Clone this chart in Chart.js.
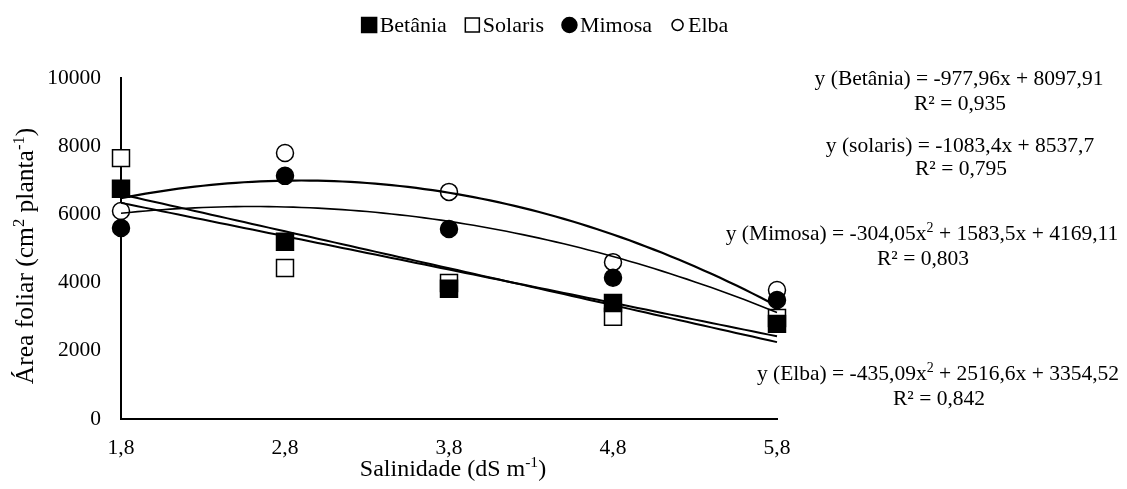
<!DOCTYPE html>
<html><head><meta charset="utf-8">
<script src="https://cdn.jsdelivr.net/npm/chart.js@4.4.0/dist/chart.umd.min.js"></script>
<style>html,body{margin:0;padding:0;background:#fff;}#wrap{width:1127px;height:489px;position:relative;}</style>
</head><body><div id="wrap"><canvas id="c"></canvas></div>
<script>
// ---- data ----
const salinity = [1.8, 2.8, 3.8, 4.8, 5.8];
const xTickLabels = ['1,8', '2,8', '3,8', '4,8', '5,8'];
const yTicks = [0, 2000, 4000, 6000, 8000, 10000];
const seriesNames = ['Betânia', 'Solaris', 'Mimosa', 'Elba'];
const betania = [6750, 5200, 3820, 3400, 2790];
const solaris = [7650, 4430, 3990, 3000, 2960];
const mimosa  = [5600, 7130, 5570, 4140, 3490];
const elba    = [6100, 7800, 6660, 4600, 3780];
// regression coefficients printed on the chart: y = a x^2 + b x + c
const trendA = [0, 0, -304.05, -435.09];
const trendB = [-977.96, -1083.4, 1583.5, 2516.6];
const trendC = [8097.91, 8537.7, 4169.11, 3354.52];
const equationTexts = [
  [[{t:'y (Betânia) = -977,96x + 8097,91'}], [{t:'R² = 0,935'}]],
  [[{t:'y (solaris) = -1083,4x + 8537,7'}], [{t:'R² = 0,795'}]],
  [[{t:'y (Mimosa) = -304,05x'},{t:'2',sup:true},{t:' + 1583,5x + 4169,11'}], [{t:'R² = 0,803'}]],
  [[{t:'y (Elba) = -435,09x'},{t:'2',sup:true},{t:' + 2516,6x + 3354,52'}], [{t:'R² = 0,842'}]]
];
const xTitle = [{t:'Salinidade (dS m'},{t:'-1',sup:true},{t:')'}];
const yTitle = [{t:'Área foliar (cm'},{t:'2',sup:true},{t:' planta'},{t:'-1',sup:true},{t:')'}];

const FONT = "'Liberation Serif', 'Times New Roman', serif";
const seriesValues = [betania, solaris, mimosa, elba];
const seriesStyle = [
  {ps:'rect', fill:'#000', r:12, order:1, lr:7.5},
  {ps:'rect', fill:'#fff', r:12, order:2, lr:7},
  {ps:'circle', fill:'#000', r:8.5, order:1, lr:7.5},
  {ps:'circle', fill:'#fff', r:8.5, order:2, lr:5.5}
];
const trendWidth = [2, 2, 1.6, 2.2];

const datasets = [];
seriesNames.forEach((name, i) => {
  datasets.push({
    type: 'scatter', label: name,
    data: salinity.map((x, j) => ({x, y: seriesValues[i][j]})),
    pointStyle: seriesStyle[i].ps, pointRadius: seriesStyle[i].r, pointHoverRadius: seriesStyle[i].r,
    backgroundColor: seriesStyle[i].fill, borderColor: '#000', borderWidth: 1.5,
    order: seriesStyle[i].order, clip: false
  });
});
seriesNames.forEach((name, i) => {
  const pts = [];
  const x0 = salinity[0], x1 = salinity[salinity.length - 1];
  for (let k = 0; k <= 80; k++) {
    const x = x0 + (x1 - x0) * k / 80;
    pts.push({x, y: trendA[i] * x * x + trendB[i] * x + trendC[i]});
  }
  datasets.push({
    type: 'line', label: 'trend ' + name, data: pts, showLine: true,
    borderColor: '#000', borderWidth: trendWidth[i], pointRadius: 0, fill: false, tension: 0,
    order: 0, clip: false
  });
});

function richWidth(ctx, segs, size) {
  let w = 0;
  segs.forEach(s => { ctx.font = (s.sup ? size * 0.65 : size) + 'px ' + FONT; w += ctx.measureText(s.t).width; });
  return w;
}
function drawRich(ctx, segs, cx, cy, size) {
  const w = richWidth(ctx, segs, size);
  let x = cx - w / 2;
  const base = cy + size * 0.33;
  ctx.textAlign = 'left'; ctx.textBaseline = 'alphabetic'; ctx.fillStyle = '#000';
  segs.forEach(s => {
    ctx.font = (s.sup ? size * 0.65 : size) + 'px ' + FONT;
    ctx.fillText(s.t, x, s.sup ? base - size * 0.36 : base);
    x += ctx.measureText(s.t).width;
  });
}

const textPlugin = {
  id: 'texts',
  afterDraw(chart) {
    const ctx = chart.ctx;
    ctx.save();
    // equations
    const eqPos = [[959, 78, 103], [960, 145, 168], [922, 233, 258], [938, 373, 398]];
    equationTexts.forEach((lines, i) => {
      drawRich(ctx, lines[0], eqPos[i][0], eqPos[i][1], 21.5);
      drawRich(ctx, lines[1], eqPos[i][0] + 1, eqPos[i][2], 21.5);
    });
    // axis titles
    drawRich(ctx, xTitle, 453, 468, 24);
    ctx.save();
    ctx.translate(25, 256);
    ctx.rotate(-Math.PI / 2);
    drawRich(ctx, yTitle, 0, 0, 25.5);
    ctx.restore();
    // legend
    const fs = 22, symW = 15, gap = 3, itemGap = 18;
    ctx.font = fs + 'px ' + FONT;
    const widths = seriesNames.map(n => ctx.measureText(n).width);
    let total = 0;
    widths.forEach((w, i) => { total += symW + gap + w + (i < widths.length - 1 ? itemGap : 0); });
    let x = 545 - total / 2;
    const ly = 25;
    seriesNames.forEach((n, i) => {
      const st = seriesStyle[i];
      const cx = x + symW / 2;
      ctx.lineWidth = 1.5; ctx.strokeStyle = '#000'; ctx.fillStyle = st.fill;
      ctx.beginPath();
      if (st.ps === 'rect') ctx.rect(cx - st.lr, ly - st.lr, st.lr * 2, st.lr * 2);
      else ctx.arc(cx, ly, st.lr, 0, Math.PI * 2);
      ctx.fill(); ctx.stroke();
      ctx.fillStyle = '#000'; ctx.font = fs + 'px ' + FONT;
      ctx.textAlign = 'left'; ctx.textBaseline = 'alphabetic';
      ctx.fillText(n, x + symW + gap, ly + fs * 0.33);
      x += symW + gap + widths[i] + itemGap;
    });
    ctx.restore();
  }
};

new Chart(document.getElementById('c'), {
  data: { datasets },
  options: {
    responsive: true, maintainAspectRatio: false, animation: false,
    layout: { padding: { top: 78, right: 350, left: 0, bottom: 0 } },
    plugins: { legend: { display: false }, tooltip: { enabled: false } },
    scales: {
      x: {
        type: 'linear', min: salinity[0], max: salinity[salinity.length - 1],
        afterBuildTicks: s => { s.ticks = salinity.map(v => ({value: v})); },
        afterFit: s => { s.height = 70; },
        grid: { display: false, drawTicks: false },
        border: { display: true, color: '#000', width: 2 },
        ticks: { color: '#000', font: { family: FONT, size: 21.5 }, padding: 16,
          callback: (v) => { const k = salinity.indexOf(v); return k >= 0 ? xTickLabels[k] : ''; } }
      },
      y: {
        type: 'linear', min: yTicks[0], max: yTicks[yTicks.length - 1],
        afterBuildTicks: s => { s.ticks = yTicks.map(v => ({value: v})); },
        afterFit: s => { s.width = 121; },
        grid: { display: false, drawTicks: false },
        border: { display: true, color: '#000', width: 2 },
        ticks: { color: '#000', font: { family: FONT, size: 21.5 }, padding: 20,
          callback: v => String(v) }
      }
    }
  },
  plugins: [textPlugin]
});
</script></body></html>
